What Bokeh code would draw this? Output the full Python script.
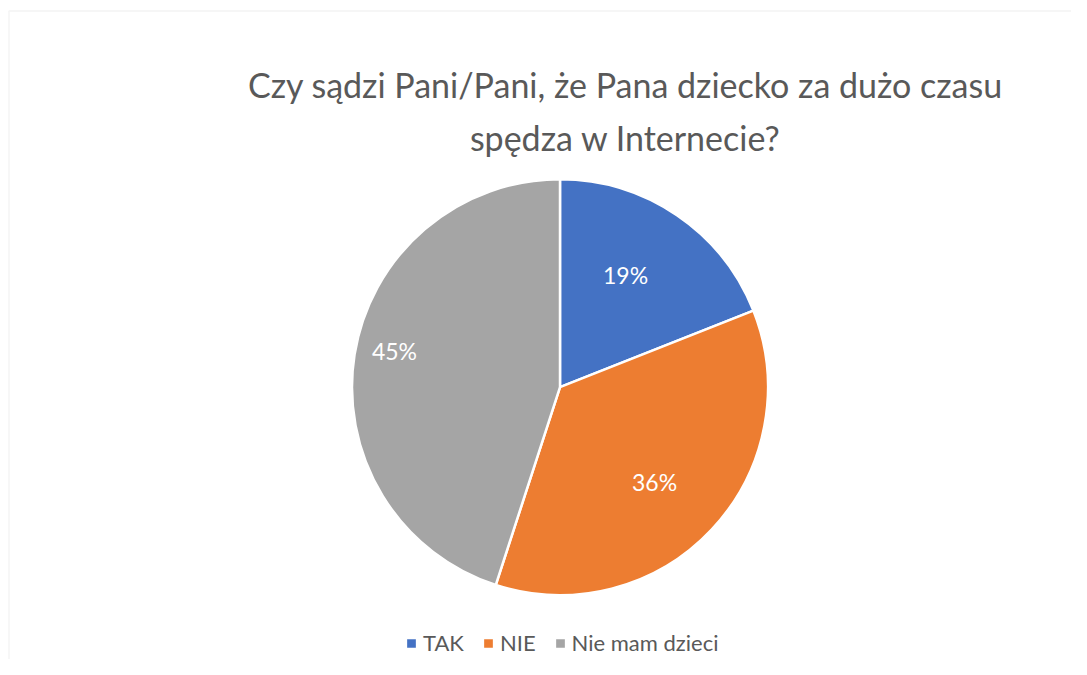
import math
from bokeh.plotting import figure
from bokeh.models import Range1d, BoxAnnotation, ColumnDataSource, Legend, LegendItem
from bokeh.core.properties import value
from bokeh.embed import file_html
from bokeh.resources import INLINE

# ---- data ----
categories = ["TAK", "NIE", "Nie mam dzieci"]
shares = [19, 36, 45]
colors = ["#4472C4", "#ED7D31", "#A5A5A5"]
title_lines = ["Czy sądzi Pani/Pani, że Pana dziecko za dużo czasu", "spędza w Internecie?"]

# ---- layout (pixels) ----
W, H = 1071, 659
CX, CY, R = 559.5, H - 386.7, 208
label_r = [0.623, 0.645, 0.815]       # radial position of data labels
label_shift = [3.8, -2.0, -3.5]       # small angular nudge (degrees)
FONT = "Lato"
TEXT_COL = "#595959"

total = sum(shares)
starts, ends, lx, ly, labels = [], [], [], [], []
a = math.pi / 2
for s, f, d in zip(shares, label_r, label_shift):
    sweep = 2 * math.pi * s / total
    starts.append(a)
    ends.append(a - sweep)
    mid = a - sweep / 2 + math.radians(d)
    lx.append(CX + f * R * math.cos(mid))
    ly.append(CY + f * R * math.sin(mid))
    labels.append(f"{round(100 * s / total)}%")
    a -= sweep

src = ColumnDataSource(dict(cat=categories, start=starts, end=ends, color=colors,
                            lx=lx, ly=ly, lab=labels))

p = figure(width=W, height=H, output_backend="svg", toolbar_location=None,
           x_range=Range1d(0, W), y_range=Range1d(0, H), min_border=0,
           tools="")
p.axis.visible = False
p.grid.visible = False
p.outline_line_color = None
p.background_fill_color = "white"
p.border_fill_color = "white"

# chart area frame (top & left edges visible)
p.add_layout(BoxAnnotation(left=8.5, top=H - 10.5, right=W + 20, bottom=-20,
                           fill_alpha=0, line_color="#D9D9D9", line_width=1.5))

wedges = p.wedge(x=CX, y=CY, radius=R, radius_units="screen",
                 start_angle="start", end_angle="end", direction="clock",
                 fill_color="color", line_color="white", line_width=2.5, source=src)

p.text(x="lx", y="ly", text="lab", source=src, text_color="white",
       text_font=value(FONT), text_font_size="23px",
       text_align="center", text_baseline="middle")

# title
p.text(x=[625, 625], y=[H - 84, H - 137], text=title_lines, text_color=TEXT_COL,
       text_font=value(FONT), text_font_size="34px",
       text_align="center", text_baseline="middle")

legend = Legend(items=[LegendItem(label=c, renderers=[wedges], index=i)
                       for i, c in enumerate(categories)],
                orientation="horizontal", location=(404, 3),
                glyph_width=14, glyph_height=14, label_standoff=5, spacing=17,
                padding=0, margin=0, border_line_color=None,
                background_fill_alpha=0,
                label_text_font=FONT, label_text_font_size="22px",
                label_text_color=TEXT_COL)
p.add_layout(legend, "center")

open("out.html", "w").write(file_html(p, INLINE))
